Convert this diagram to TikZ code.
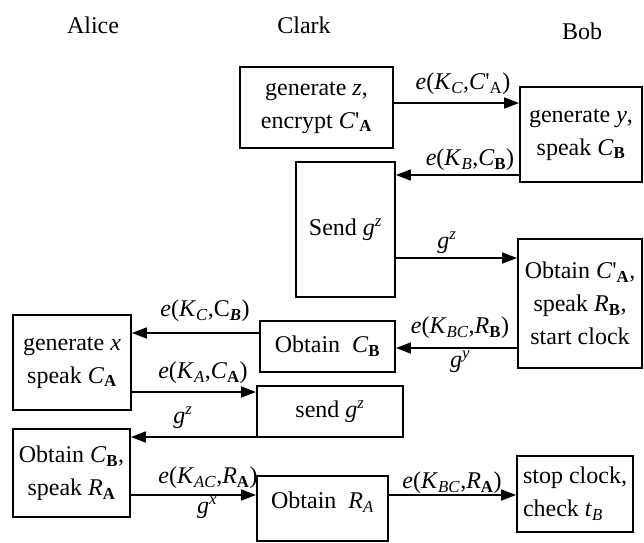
\documentclass[tikz,border=0pt]{standalone}
\usepackage{fontspec}
\setmainfont{Liberation Serif}
\usetikzlibrary{arrows.meta}
\newcommand\It[1]{\textit{#1}}
\newcommand\Bsub[1]{\textsubscript{\textbf{#1}}}
\newcommand\Isub[1]{\textsubscript{\textit{#1}}}
\newcommand\Rsub[1]{\textsubscript{#1}}
\newcommand\Isup[1]{\textsuperscript{\textit{#1}}}
\newcommand\Primq{\textquotesingle}
\begin{document}
\begin{tikzpicture}[x=1pt,y=-1pt,
  every node/.style={font=\fontsize{24}{33}\selectfont, inner sep=0pt},
  box/.style={draw, line width=1.9pt, align=center},
  arr/.style={line width=1.7pt, -{Triangle[length=15pt,width=11pt]}}]
\useasboundingbox (0,0) rectangle (644,542);
% headers
\node (hA) at (93,25) {Alice};
\node (hC) at (304,25) {Clark};
\node (hB) at (582,31) {Bob};
% boxes
\node[box, minimum width=153pt, minimum height=81pt] (b1) at (316.5,107.5) {generate \It{z},\\encrypt \It{C}\Primq\Bsub{A}};
\node[box, minimum width=122pt, minimum height=95pt] (b2) at (581,134.5) {generate \It{y},\\speak \It{C}\Bsub{B}};
\node[box, minimum width=99pt, minimum height=135pt] (b3) at (345.5,229.5) {Send \It{g}\Isup{z}};
\node[box, minimum width=124pt, minimum height=129pt] (b4) at (580,303.5) {Obtain \It{C}\Primq\Bsub{A},\\speak \It{R}\Bsub{B},\\start clock};
\node[box, minimum width=135pt, minimum height=51pt] (b5) at (327.5,346.5) {Obtain~~\It{C}\Bsub{B}};
\node[box, minimum width=118pt, minimum height=95pt] (b6) at (72,362.5) {generate \It{x}\\speak \It{C}\Bsub{A}};
\node[box, minimum width=146pt, minimum height=51pt] (b7) at (330,411.5) {send \It{g}\Isup{z}};
\node[box, minimum width=117pt, minimum height=88pt] (b8) at (71.5,473) {Obtain \It{C}\Bsub{B},\\speak \It{R}\Bsub{A}};
\node[box, minimum width=131pt, minimum height=65pt] (b9) at (322.5,508.5) {\raisebox{16pt}{Obtain~~\It{R}\Isub{A}}};
\node[box, minimum width=116pt, minimum height=76pt, align=left] (b10) at (575,494) {stop clock,\\check \It{t}\Isub{B}};
% arrows
\draw[arr] (b1.east |- 0,103) -- (b2.west |- 0,103);
\draw[arr] (b2.west |- 0,175) -- (b3.east |- 0,175);
\draw[arr] (b3.east |- 0,258) -- (b4.west |- 0,258);
\draw[arr] (b4.west |- 0,348) -- (b5.east |- 0,348);
\draw[arr] (b5.west |- 0,333) -- (b6.east |- 0,333);
\draw[arr] (b6.east |- 0,392) -- (b7.west |- 0,392);
\draw[arr] (b7.west |- 0,437) -- (b8.east |- 0,437);
\draw[arr] (b8.east |- 0,495) -- (b9.west |- 0,495);
\draw[arr] (b9.east |- 0,495) -- (b10.west |- 0,495);
% labels
\node (l1) at (463,84) {\It{e}(\It{K}\Isub{C},\It{C}\Primq\Rsub{A})};
\node (l2) at (470,160) {\It{e}(\It{K}\Isub{B},\It{C}\Bsub{B})};
\node (l3) at (447,243) {\It{g}\Isup{z}};
\node (l4) at (460,328) {\It{e}(\It{K}\Isub{BC},\It{R}\Bsub{B})};
\node (l4b) at (460,362) {\It{g}\Isup{y}};
\node (l5) at (205,311) {\It{e}(\It{K}\Isub{C},C\textsubscript{\textbf{\textit{B}}})};
\node (l6) at (203,373) {\It{e}(\It{K}\Isub{A},\It{C}\Bsub{A})};
\node (l7) at (183,418) {\It{g}\Isup{z}};
\node (l8) at (208,478) {\It{e}(\It{K}\Isub{AC},\It{R}\Bsub{A})};
\node (l8b) at (207,508) {\It{g}\Isup{x}};
\node (l9) at (452,483) {\It{e}(\It{K}\Isub{BC},\It{R}\Bsub{A})};
\end{tikzpicture}
\end{document}
